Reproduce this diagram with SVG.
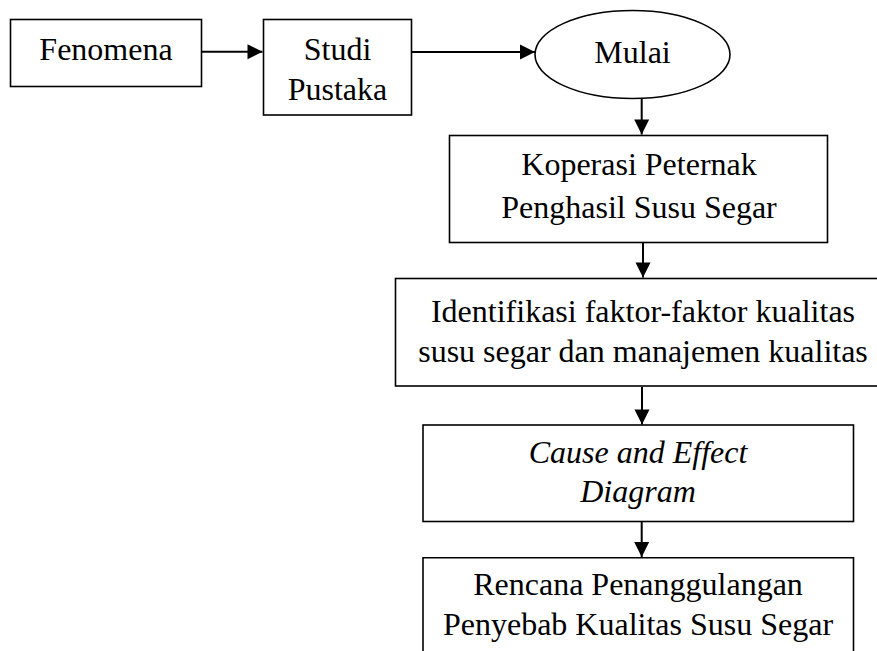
<svg xmlns="http://www.w3.org/2000/svg" width="877" height="651" viewBox="0 0 877 651">
<style>
.box{fill:#fff;stroke:#000;stroke-width:1.6}
.t{font-family:"Liberation Serif","Times New Roman",serif;font-size:32px;fill:#000;text-anchor:middle}
.i{font-style:italic}
.c{stroke:#000;stroke-width:2;fill:none}
</style>
<defs>
<marker id="ah" markerUnits="userSpaceOnUse" markerWidth="18" markerHeight="18" viewBox="0 0 18 18" refX="16" refY="9" orient="auto">
<path d="M1,1.5 L16,9 L1,16.5 Z" fill="#000"/>
</marker>
</defs>
<rect width="877" height="651" fill="#fff"/>
<g id="connectors">
<path class="c" d="M202,51.7 H262.5" marker-end="url(#ah)"/>
<path class="c" d="M412,52 H535" marker-end="url(#ah)"/>
<path class="c" d="M641.7,98.5 V134.5" marker-end="url(#ah)"/>
<path class="c" d="M643,243 V277.5" marker-end="url(#ah)"/>
<path class="c" d="M642,387 V424.5" marker-end="url(#ah)"/>
<path class="c" d="M641.7,522 V557" marker-end="url(#ah)"/>
</g>
<g id="fenomena">
<rect class="box" x="10.5" y="19.5" width="191" height="67"/>
<text class="t" x="106" y="60">Fenomena</text>
</g>
<g id="studi">
<rect class="box" x="263.5" y="19.5" width="148" height="95.5"/>
<text class="t" x="337.5" y="60">Studi</text>
<text class="t" x="337.5" y="100">Pustaka</text>
</g>
<g id="mulai">
<ellipse class="box" cx="632.5" cy="54.5" rx="97.5" ry="44"/>
<text class="t" x="632.5" y="63.3">Mulai</text>
</g>
<g id="koperasi">
<rect class="box" x="449.5" y="135.5" width="378" height="107"/>
<text class="t" x="639" y="175">Koperasi Peternak</text>
<text class="t" x="639" y="218">Penghasil Susu Segar</text>
</g>
<g id="identifikasi">
<rect class="box" x="395.5" y="278.5" width="495" height="107.5"/>
<text class="t" x="643" y="321.5">Identifikasi faktor-faktor kualitas</text>
<text class="t" x="643" y="362">susu segar dan manajemen kualitas</text>
</g>
<g id="cause">
<rect class="box" x="423" y="425" width="430.5" height="96.5"/>
<text class="t i" x="638" y="463">Cause and Effect</text>
<text class="t i" x="638" y="501.7">Diagram</text>
</g>
<g id="rencana">
<path class="box" d="M423,660 V557.7 H853.5 V660"/>
<text class="t" x="638" y="595">Rencana Penanggulangan</text>
<text class="t" x="638" y="635">Penyebab Kualitas Susu Segar</text>
</g>
</svg>
